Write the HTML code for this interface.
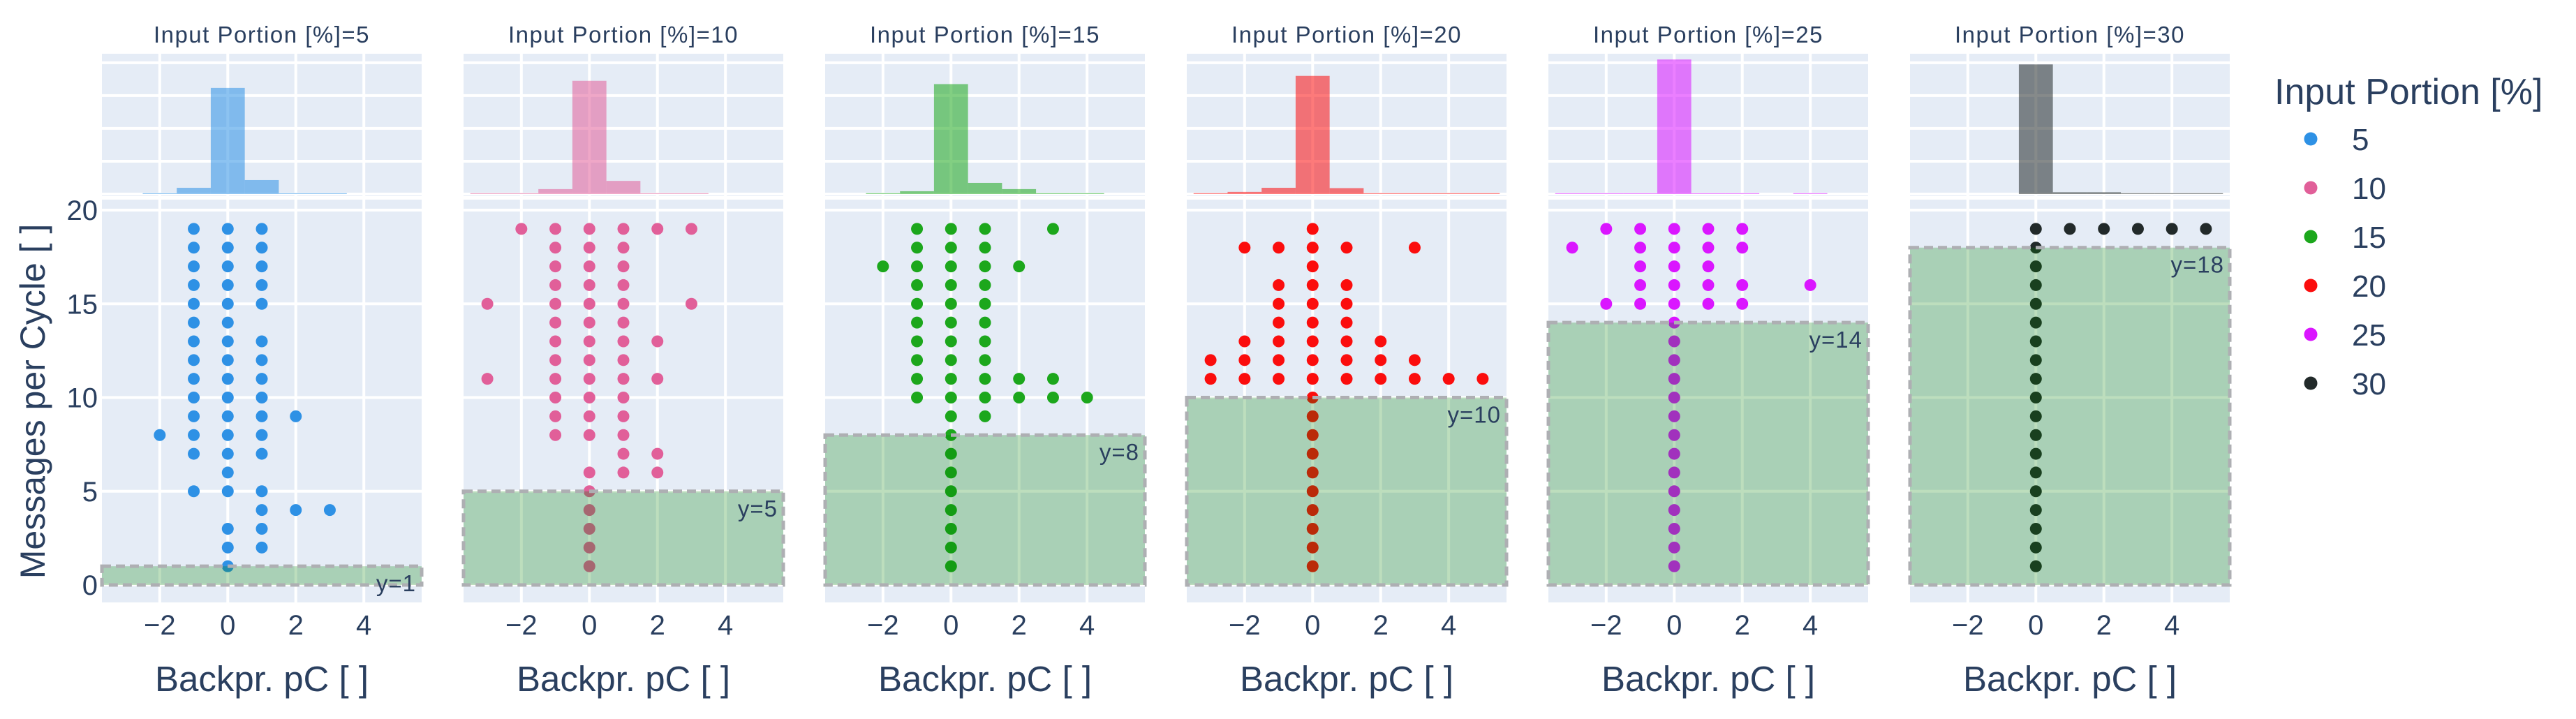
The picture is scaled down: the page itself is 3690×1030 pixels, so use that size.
<!DOCTYPE html>
<html><head><meta charset="utf-8"><style>
html,body{margin:0;padding:0;background:#fff;}
svg{display:block;font-family:"Liberation Sans",sans-serif;}
</style></head><body>
<svg id="chart" width="3690" height="1030" viewBox="0 0 3690 1030" xmlns="http://www.w3.org/2000/svg"></svg>
<script>
// ---- data ----
const portions = [5, 10, 15, 20, 25, 30];
const colors = ["#2E91E5", "#E15F99", "#1CA71C", "#FB0D0D", "#DA16FF", "#222A2A"];
const thresholds = [1, 5, 8, 10, 14, 18];
const xTicks = [-2, 0, 2, 4];
const yTicks = [0, 5, 10, 15, 20];
const histTicks = [0, 0.2, 0.4, 0.6, 0.8];

const p1Cols = [-2, -1, 0, 1, 2, 3];
const p1Vals = [[8], [19,18,17,16,15,14,13,12,11,10,9,8,7,5], [19,18,17,16,15,14,13,12,11,10,9,8,7,6,5,3,2,1], [19,18,17,16,15,13,12,11,10,9,8,7,5,4,3,2], [9,4], [4]];
const p2Cols = [-3, -2, -1, 0, 1, 2, 3];
const p2Vals = [[15,11], [19], [19,18,17,16,15,14,13,12,11,10,9,8], [19,18,17,16,15,14,13,12,11,10,9,8,6,5,4,3,2,1], [19,18,17,16,15,14,13,12,11,10,9,8,7,6], [19,13,11,7,6], [19,15]];
const p3Cols = [-2, -1, 0, 1, 2, 3, 4];
const p3Vals = [[17], [19,18,17,16,15,14,13,12,11,10], [19,18,17,16,15,14,13,12,11,10,9,8,7,6,5,4,3,2,1], [19,18,17,16,15,14,13,12,11,10,9], [17,11,10], [19,11,10], [10]];
const p4Cols = [-3, -2, -1, 0, 1, 2, 3, 4, 5];
const p4Vals = [[12,11], [18,13,12,11], [18,16,15,14,13,12,11], [19,18,17,16,15,14,13,12,11,10,9,8,7,6,5,4,3,2,1], [18,16,15,14,13,12,11], [13,12,11], [18,12,11], [11], [11]];
const p5Cols = [-3, -2, -1, 0, 1, 2, 4];
const p5Vals = [[18], [19,15], [19,18,17,16,15], [19,18,17,16,15,14,13,12,11,10,9,8,7,6,5,4,3,2,1], [19,18,17,16,15], [19,18,16,15], [16]];
const p6Cols = [0, 1, 2, 3, 4, 5];
const p6Vals = [[19,18,17,16,15,14,13,12,11,10,9,8,7,6,5,4,3,2,1], [19], [19], [19], [19], [19]];

const h1Bins = [-2, -1, 0, 1, 2, 3];
const h1Vals = [0.003, 0.038, 0.647, 0.085, 0.004, 0.002];
const h2Bins = [-3, -2, -1, 0, 1, 2, 3];
const h2Vals = [0.002, 0.002, 0.03, 0.69, 0.08, 0.003, 0.002];
const h3Bins = [-2, -1, 0, 1, 2, 3, 4];
const h3Vals = [0.003, 0.017, 0.67, 0.068, 0.03, 0.003, 0.003];
const h4Bins = [-3, -2, -1, 0, 1, 2, 3, 4, 5];
const h4Vals = [0.002, 0.013, 0.038, 0.72, 0.036, 0.005, 0.002, 0.002, 0.002];
const h5Bins = [-3, -2, -1, 0, 1, 2, 3, 4];
const h5Vals = [0.002, 0.002, 0.005, 0.82, 0.005, 0.002, 0, 0.002];
const h6Bins = [0, 1, 2, 3, 4, 5];
const h6Vals = [0.79, 0.011, 0.011, 0.003, 0.002, 0.002];

const cols = [p1Cols, p2Cols, p3Cols, p4Cols, p5Cols, p6Cols];
const vals = [p1Vals, p2Vals, p3Vals, p4Vals, p5Vals, p6Vals];
const hBins = [h1Bins, h2Bins, h3Bins, h4Bins, h5Bins, h6Bins];
const hVals = [h1Vals, h2Vals, h3Vals, h4Vals, h5Vals, h6Vals];

// ---- layout ----
const NS = "http://www.w3.org/2000/svg";
const svg = document.getElementById("chart");
const PW = 458, PITCH = 518, X0 = 146;
const XMIN = -3.7, XMAX = 5.7;
const SY0 = 286, SY1 = 863, YMIN = -0.93, YMAX = 20.56;
const HY0 = 77, HY1 = 281, HMIN = -0.013, HMAX = 0.855;
const TXT = "#2a3f5f", BG = "#E5ECF6";

function mk(tag, attrs, parent) {
  const e = document.createElementNS(NS, tag);
  for (const k in attrs) e.setAttribute(k, attrs[k]);
  (parent || svg).appendChild(e);
  return e;
}
function xs(i, v) { return X0 + i * PITCH + (v - XMIN) / (XMAX - XMIN) * PW; }
function ys(v) { return SY1 - (v - YMIN) / (YMAX - YMIN) * (SY1 - SY0); }
function hs(v) { return HY1 - (v - HMIN) / (HMAX - HMIN) * (HY1 - HY0); }

for (let i = 0; i < 6; i++) {
  const left = X0 + i * PITCH;
  const g = mk("g", {});
  
  

  const title = mk("text", {x: left + PW / 2, y: 61, "text-anchor": "middle", "font-size": 33, "letter-spacing": 1.5, fill: TXT}, g);
  title.textContent = "Input Portion [%]=" + portions[i];
  
  

  const hbg = mk("rect", {x: left, y: HY0, width: PW, height: HY1 - HY0, fill: BG}, g);
  
  
  histTicks.forEach(t => mk("line", {x1: left, x2: left + PW, y1: hs(t), y2: hs(t), stroke: "#fff", "stroke-width": 4}, g));
  xTicks.forEach(t => mk("line", {x1: xs(i, t), x2: xs(i, t), y1: HY0, y2: HY1, stroke: "#fff", "stroke-width": 4}, g));
  hBins[i].forEach((b, k) => {
    const v = hVals[i][k];
    if (v <= 0) return;
    const top = Math.min(hs(v), hs(0) - 1.2);
    const r = mk("rect", {x: xs(i, b - 0.5), y: top, width: xs(i, b + 0.5) - xs(i, b - 0.5), height: hs(0) - top, fill: colors[i], "fill-opacity": 0.55}, g);
    
    
  });

  const sbg = mk("rect", {x: left, y: SY0, width: PW, height: SY1 - SY0, fill: BG}, g);
  
  
  yTicks.forEach(t => mk("line", {x1: left, x2: left + PW, y1: ys(t), y2: ys(t), stroke: "#fff", "stroke-width": 4}, g));
  xTicks.forEach(t => mk("line", {x1: xs(i, t), x2: xs(i, t), y1: SY0, y2: SY1, stroke: "#fff", "stroke-width": 4}, g));
  cols[i].forEach((c, k) => {
    vals[i][k].forEach(v => {
      const p = mk("circle", {cx: xs(i, c), cy: ys(v), r: 8.5, fill: colors[i]}, g);
      
      
    });
  });
  const th = thresholds[i];
  const rect = mk("rect", {x: left, y: ys(th), width: PW, height: ys(0) - ys(th), fill: "rgb(0,128,0)", "fill-opacity": 0.26, stroke: "#aeafb3", "stroke-width": 5, "stroke-dasharray": "13,7"}, g);
  
  
  const ann = mk("text", {x: left + PW - 8, y: ys(th) + 36, "text-anchor": "end", "font-size": 33, "letter-spacing": 1, fill: TXT}, g);
  ann.textContent = "y=" + th;
  
  

  xTicks.forEach(t => {
    const tl = mk("text", {x: xs(i, t), y: 909, "text-anchor": "middle", "font-size": 40, fill: TXT}, g);
    tl.textContent = t < 0 ? "\u2212" + Math.abs(t) : String(t);
    
    
  });
  const xt = mk("text", {x: left + PW / 2, y: 990, "text-anchor": "middle", "font-size": 51, fill: TXT}, g);
  xt.textContent = "Backpr. pC [ ]";
  
  
}

yTicks.forEach(t => {
  const tl = mk("text", {x: 140, y: ys(t) + 14, "text-anchor": "end", "font-size": 40, fill: TXT});
  tl.textContent = String(t);
  
  
});
const yt = mk("text", {x: 0, y: 0, "text-anchor": "middle", "font-size": 50, fill: TXT, transform: "translate(64,575) rotate(-90)"});
yt.textContent = "Messages per Cycle [ ]";



const lg = mk("g", {});


const lt = mk("text", {x: 3258, y: 149, "font-size": 52, fill: TXT}, lg);
lt.textContent = "Input Portion [%]";


portions.forEach((p, k) => {
  const cy = 199 + k * 70;
  const e = mk("g", {}, lg);
  
  
  mk("circle", {cx: 3310, cy: cy, r: 9.5, fill: colors[k]}, e);
  const t = mk("text", {x: 3369, y: cy + 16, "font-size": 44, fill: TXT}, e);
  t.textContent = String(p);
});
</script>
</body></html>
